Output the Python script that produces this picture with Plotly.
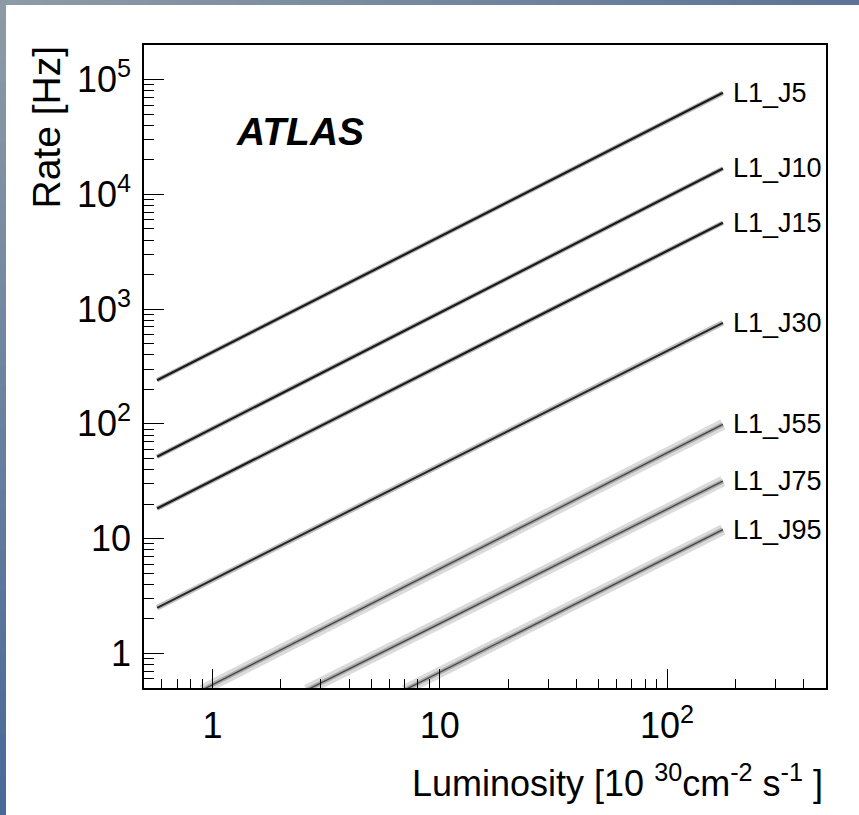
import math
import plotly.graph_objects as go

# ---- data ----
triggers = ["L1_J5", "L1_J10", "L1_J15", "L1_J30", "L1_J55", "L1_J75", "L1_J95"]
lumi_J5 = [0.571, 10.0, 176.0]
rate_J5 = [240.0, 4300.0, 76600.0]
lumi_J10 = [0.571, 10.0, 176.0]
rate_J10 = [51.7, 930.0, 16800.0]
lumi_J15 = [0.571, 10.0, 176.0]
rate_J15 = [18.3, 320.0, 5650.0]
lumi_J30 = [0.571, 10.0, 176.0]
rate_J30 = [2.5, 43.5, 760.0]
lumi_J55 = [0.9, 10.0, 176.0]
rate_J55 = [0.48, 5.5, 98.9]
lumi_J75 = [2.6, 10.0, 176.0]
rate_J75 = [0.48, 1.82, 31.7]
lumi_J95 = [7.0, 30.0, 176.0]
rate_J95 = [0.48, 2.05, 12.0]

series = {
    "L1_J5": (lumi_J5, rate_J5),
    "L1_J10": (lumi_J10, rate_J10),
    "L1_J15": (lumi_J15, rate_J15),
    "L1_J30": (lumi_J30, rate_J30),
    "L1_J55": (lumi_J55, rate_J55),
    "L1_J75": (lumi_J75, rate_J75),
    "L1_J95": (lumi_J95, rate_J95),
}

y_tickvals = [1, 10, 100, 1000, 10000, 100000]
y_ticktext = ["1", "10", "10<sup>2</sup>", "10<sup>3</sup>", "10<sup>4</sup>", "10<sup>5</sup>"]
x_tickvals = [1, 10, 100]
x_ticktext = ["1", "10", "10<sup>2</sup>"]

# ---- styles ----
narrow = dict(layers=[(4.6, "rgba(0,0,0,0.30)"), (2.2, "rgba(0,0,0,0.85)")])
mid = dict(layers=[(5.5, "rgba(0,0,0,0.25)"), (2.0, "rgba(0,0,0,0.8)")])
wide = dict(layers=[(11, "rgba(0,0,0,0.14)"), (4.5, "rgba(0,0,0,0.22)"), (1.3, "rgba(0,0,0,0.6)")])
style = {
    "L1_J5": narrow, "L1_J10": narrow, "L1_J15": narrow, "L1_J30": mid,
    "L1_J55": wide, "L1_J75": wide, "L1_J95": wide,
}

fig = go.Figure()
annotations = []
for name in triggers:
    xs, ys = series[name]
    for i, (w, c) in enumerate(style[name]["layers"]):
        last = i == len(style[name]["layers"]) - 1
        fig.add_trace(go.Scatter(x=xs, y=ys, mode="lines", name=name,
                                 line=dict(color=c, width=w),
                                 hoverinfo=None if last else "skip",
                                 showlegend=False))
    annotations.append(dict(x=math.log10(xs[-1]), y=math.log10(ys[-1]), xref="x", yref="y",
                            text=name, showarrow=False, xanchor="left",
                            yanchor="middle", xshift=8,
                            font=dict(family="Liberation Sans", size=27, color="black")))

# plot area geometry in pixels
W, H = 859, 815
L_PX, R_PX, T_PX, B_PX = 144, 826, 45, 688
pw, ph = R_PX - L_PX, B_PX - T_PX


def px_x(p):
    return (p - L_PX) / pw


def px_y(p):
    return (B_PX - p) / ph


annotations.append(dict(x=px_x(234), y=px_y(131), xref="paper", yref="paper",
                        text="<b><i>ATLAS</i></b>", showarrow=False,
                        xanchor="left", yanchor="middle",
                        font=dict(family="Liberation Sans", size=39, color="black")))
annotations.append(dict(x=px_x(46), y=px_y(44), xref="paper", yref="paper",
                        text="Rate [Hz]", textangle=-90, showarrow=False,
                        xanchor="center", yanchor="top", borderpad=0,
                        font=dict(family="Liberation Sans", size=39, color="black")))
annotations.append(dict(x=px_x(824), y=px_y(781), xref="paper", yref="paper",
                        text="Luminosity [10 <sup>30</sup>cm<sup>-2</sup> s<sup>-1</sup> ]",
                        showarrow=False, xanchor="right", yanchor="middle", borderpad=0,
                        font=dict(family="Liberation Sans", size=36, color="black")))

# frame gradient strips (top and left)
def lerp(c1, c2, t):
    return "rgb(%d,%d,%d)" % tuple(round(a + (b - a) * t) for a, b in zip(c1, c2))


shapes = []
grey = (142, 155, 166)
blue_r = (92, 116, 150)
blue_b = (72, 104, 152)
n = 40
for i in range(n):
    t = (i + 0.5) / n
    shapes.append(dict(type="rect", xref="paper", yref="paper",
                       x0=px_x(W * i / n), x1=px_x(min(W, W * (i + 1) / n + 1)),
                       y0=px_y(0), y1=px_y(5), line=dict(width=0),
                       fillcolor=lerp(grey, blue_r, t), layer="above"))
    shapes.append(dict(type="rect", xref="paper", yref="paper",
                       x0=px_x(0), x1=px_x(6),
                       y0=px_y(H * i / n), y1=px_y(min(H, H * (i + 1) / n + 1)), line=dict(width=0),
                       fillcolor=lerp(grey, blue_b, t), layer="above"))

y_minor = [m * 10 ** e for e in range(-1, 6) for m in range(2, 10)]
x_minor = [m * 10 ** e for e in range(-1, 3) for m in range(2, 10)]

fig.update_layout(
    width=W, height=H, autosize=False,
    margin=dict(l=L_PX, r=W - R_PX, t=T_PX, b=H - B_PX, pad=0),
    paper_bgcolor="white", plot_bgcolor="white",
    font=dict(family="Liberation Sans", color="black"),
    annotations=annotations, shapes=shapes,
    xaxis=dict(type="log", range=[-0.301, 2.699], showgrid=False, zeroline=False,
               showline=True, linecolor="black", linewidth=1.6, mirror=True,
               ticks="inside", ticklen=19, tickwidth=1.2, tickcolor="black",
               tickmode="array", tickvals=x_tickvals, ticktext=x_ticktext,
               tickfont=dict(family="Liberation Sans", size=36, color="black"),
               ticklabelstandoff=5,
               minor=dict(ticks="inside", ticklen=9, tickwidth=1.2, tickcolor="black",
                          tickmode="array", tickvals=x_minor, showgrid=False)),
    yaxis=dict(type="log", range=[-0.301, 5.301], showgrid=False, zeroline=False,
               showline=True, linecolor="black", linewidth=1.6, mirror=True,
               ticks="inside", ticklen=20, tickwidth=1.2, tickcolor="black",
               tickmode="array", tickvals=y_tickvals, ticktext=y_ticktext,
               tickfont=dict(family="Liberation Sans", size=36, color="black"),
               ticklabelstandoff=4,
               minor=dict(ticks="inside", ticklen=10, tickwidth=1.2, tickcolor="black",
                          tickmode="array", tickvals=y_minor, showgrid=False)),
)

fig.write_html("out.html",
               config={"displayModeBar": False},
               post_script="document.body.style.margin='0px';document.body.style.overflow='hidden';")
